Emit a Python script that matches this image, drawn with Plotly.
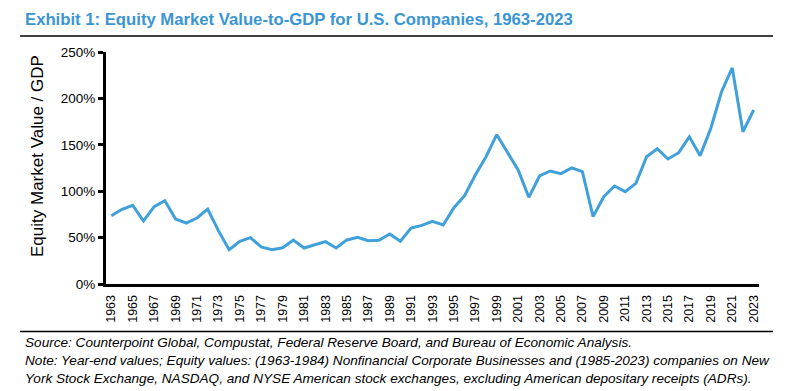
import plotly.graph_objects as go

years = [str(y) for y in range(1963, 2024)]
equity_to_gdp_pct = [
    73.6, 80.5, 84.8, 67.9, 83.3, 89.8, 70.0, 65.7, 71.1, 80.8,
    57.5, 37.0, 46.0, 49.9, 39.9, 37.0, 39.1, 47.4, 38.8, 42.4,
    45.6, 38.8, 47.5, 50.3, 46.7, 47.1, 53.9, 46.0, 60.3, 63.2,
    67.5, 63.6, 82.2, 95.2, 117.5, 137.2, 160.9, 141.9, 122.8, 93.4,
    116.4, 121.8, 118.9, 125.2, 121.0, 72.6, 94.1, 105.6, 99.5, 108.5,
    137.2, 145.8, 134.7, 141.5, 158.7, 138.3, 167.8, 207.2, 232.8, 164.1,
    187.5,
]
x_tick_labels = years[::2]
y_tick_values = [0, 50, 100, 150, 200, 250]

title_text = "Exhibit 1: Equity Market Value-to-GDP for U.S. Companies, 1963-2023"
y_title = "Equity Market Value / GDP"
notes = [
    "Source: Counterpoint Global, Compustat, Federal Reserve Board, and Bureau of Economic Analysis.",
    "Note: Year-end values; Equity values: (1963-1984) Nonfinancial Corporate Businesses and (1985-2023) companies on New",
    "York Stock Exchange, NASDAQ, and NYSE American stock exchanges, excluding American depositary receipts (ADRs).",
]

# page body has an 8px default margin: compensate
OFF = 8
W, H = 806 - OFF, 391 - OFF
L, R, T, B = 106 - OFF, 759 - OFF, 52 - OFF, 284 - OFF
FONT = "Liberation Sans, Arial, sans-serif"
BLUE_LINE = "#3FA0DA"
BLUE_TITLE = "#3A95D4"


def px(x):
    return (x - OFF - L) / (R - L)


def py(y):
    return (B - (y - OFF)) / (B - T)


fig = go.Figure()
fig.add_trace(go.Scatter(
    x=years, y=equity_to_gdp_pct, mode="lines",
    line=dict(color=BLUE_LINE, width=3),
    hoverinfo="skip", showlegend=False,
))

fig.update_layout(
    width=W, height=H,
    margin=dict(l=L, r=W - R, t=T, b=H - B, pad=0),
    paper_bgcolor="white", plot_bgcolor="white",
    font=dict(family=FONT, color="black"),
    showlegend=False,
    xaxis=dict(
        type="category", range=[-0.5, len(years) - 0.5],
        tickmode="array", tickvals=x_tick_labels, ticktext=x_tick_labels,
        tickangle=-90, tickfont=dict(size=12.5, family=FONT, color="black"),
        ticklabelstandoff=3,
        showline=True, linecolor="black", linewidth=3,
        showgrid=False, zeroline=False, ticks="",
    ),
    yaxis=dict(
        range=[0, 250], tickmode="array", tickvals=y_tick_values,
        ticktext=[f"{v}%" for v in y_tick_values],
        tickfont=dict(size=13.5, family=FONT, color="black"),
        showline=True, linecolor="black", linewidth=3,
        ticks="outside", ticklen=5, tickwidth=3, tickcolor="black",
        showgrid=False, zeroline=False,
    ),
)

annotations = [
    dict(text=f"<b>{title_text}</b>", x=px(23), y=py(19), xref="paper", yref="paper",
         xanchor="left", yanchor="middle", showarrow=False,
         font=dict(size=16.7, family=FONT, color=BLUE_TITLE)),
    dict(text=y_title, x=px(37), y=py(156), xref="paper", yref="paper",
         xanchor="center", yanchor="middle", textangle=-90, showarrow=False,
         font=dict(size=17, family=FONT, color="black")),
]
for line, yc in zip(notes, [342, 360, 378]):
    annotations.append(dict(
        text=f"<i>{line}</i>", x=px(23), y=py(yc), xref="paper", yref="paper",
        xanchor="left", yanchor="middle", showarrow=False,
        font=dict(size=13.6, family=FONT, color="black")))
fig.update_layout(annotations=annotations)

for yline in (36, 331.5):
    fig.add_shape(type="line", xref="paper", yref="paper",
                  x0=px(20), x1=px(773), y0=py(yline), y1=py(yline),
                  line=dict(color="black", width=1.5))

fig.write_html("out.html")
